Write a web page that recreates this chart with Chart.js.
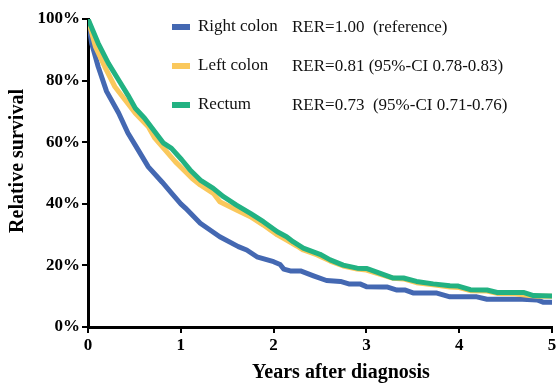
<!DOCTYPE html>
<html>
<head>
<meta charset="utf-8">
<script src="https://cdn.jsdelivr.net/npm/chart.js@4/dist/chart.umd.min.js"></script>
<style>
  html, body { margin: 0; padding: 0; background: #fff; }
  #wrap { width: 556px; height: 383px; position: relative; }
</style>
</head>
<body>
<div id="wrap"><canvas id="c" width="556" height="383"></canvas></div>
<script>
const seriesNames = ["Right colon", "Left colon", "Rectum"];
const rerLabels = ["RER=1.00  (reference)", "RER=0.81 (95%-CI 0.78-0.83)", "RER=0.73  (95%-CI 0.71-0.76)"];
const xTickLabels = ["0", "1", "2", "3", "4", "5"];
const yTickLabels = ["0%", "20%", "40%", "60%", "80%", "100%"];
const xTitle = "Years after diagnosis";
const yTitle = "Relative survival";

const rightYears  = [0, 0.04, 0.11, 0.20, 0.33, 0.43, 0.54, 0.65, 0.80, 0.90, 1.00, 1.05, 1.21, 1.42, 1.62, 1.71, 1.82, 2.00, 2.07, 2.11, 2.18, 2.29, 2.43, 2.57, 2.72, 2.81, 2.93, 3.00, 3.18, 3.22, 3.33, 3.42, 3.51, 3.76, 3.90, 4.19, 4.30, 4.68, 4.84, 4.91, 5.00];
const rightValues = [100, 92, 84.5, 76.5, 69.5, 63, 57.5, 52, 47, 43.5, 40, 38.6, 33.7, 29.3, 26.1, 25, 22.8, 21.2, 20.3, 18.8, 18.2, 18.2, 16.6, 15.1, 14.8, 14.0, 14.0, 13.1, 13.0, 13.0, 12.0, 12.0, 11.0, 11.0, 9.8, 9.8, 9.0, 9.0, 8.8, 8.0, 8.0];

const leftYears  = [0, 0.08, 0.18, 0.29, 0.40, 0.51, 0.65, 0.72, 0.83, 0.94, 1.05, 1.12, 1.21, 1.35, 1.42, 1.60, 1.75, 1.89, 2.04, 2.14, 2.25, 2.32, 2.47, 2.61, 2.75, 2.90, 3.00, 3.15, 3.29, 3.40, 3.54, 3.72, 3.90, 4.00, 4.12, 4.30, 4.41, 4.60, 4.75, 4.85, 5.00];
const leftValues = [100, 91, 84.5, 78, 73.7, 69.4, 65, 61.3, 57.5, 53.7, 50.4, 48.3, 46.1, 43.4, 40.7, 38, 35.8, 33.1, 29.9, 28.2, 26.3, 25, 23.4, 21.4, 19.8, 18.8, 18.5, 17.1, 15.8, 15.6, 14.4, 13.7, 13.0, 12.8, 11.8, 11.7, 10.9, 10.8, 10.2, 10.0, 10.0];

const rectumYears  = [0, 0.11, 0.22, 0.33, 0.43, 0.51, 0.61, 0.72, 0.81, 0.90, 1.01, 1.10, 1.21, 1.35, 1.46, 1.60, 1.75, 1.89, 2.04, 2.14, 2.21, 2.32, 2.50, 2.61, 2.75, 2.90, 3.00, 3.15, 3.29, 3.40, 3.54, 3.72, 3.90, 3.99, 4.12, 4.30, 4.41, 4.70, 4.80, 5.00];
const rectumValues = [100, 92.1, 85.6, 80.2, 75.3, 71.0, 67.8, 63.4, 59.8, 58.0, 54.3, 51.0, 47.7, 45.0, 42.3, 39.6, 36.9, 34.2, 30.9, 29.3, 27.7, 25.6, 23.6, 21.8, 20.1, 19.1, 19.0, 17.4, 15.9, 15.9, 14.8, 14.0, 13.4, 13.3, 12.1, 12.0, 11.2, 11.2, 10.2, 10.1];

const colors = ["rgb(68,104,178)", "rgb(250,200,92)", "rgb(34,178,130)"];

function pts(xs, ys) { return xs.map((x, i) => ({ x: x, y: ys[i] })); }

const overlayPlugin = {
  id: 'overlayText',
  afterDraw(chart) {
    const ctx = chart.ctx;
    ctx.save();
    const rows = [27, 66, 105];
    ctx.font = '17px "Liberation Serif", "Times New Roman", serif';
    ctx.textBaseline = 'middle';
    ctx.textAlign = 'left';
    for (let i = 0; i < 3; i++) {
      ctx.fillStyle = colors[i];
      ctx.fillRect(172, rows[i] - 3, 18, 6);
      ctx.fillStyle = '#111';
      ctx.fillText(seriesNames[i], 198, rows[i]);
      ctx.fillText(rerLabels[i], 292, rows[i] + 1);
    }
    ctx.fillStyle = '#000';
    ctx.font = 'bold 20px "Liberation Serif", "Times New Roman", serif';
    ctx.textAlign = 'center';
    ctx.fillText(xTitle, 341, 373);
    ctx.translate(18, 161);
    ctx.rotate(-Math.PI / 2);
    ctx.fillText(yTitle, 0, 0);
    ctx.restore();
  }
};

const chart = new Chart(document.getElementById('c'), {
  type: 'line',
  data: {
    datasets: [
      { label: seriesNames[2], data: pts(rectumYears, rectumValues), borderColor: colors[2], order: 0 },
      { label: seriesNames[1], data: pts(leftYears, leftValues), borderColor: colors[1], order: 1 },
      { label: seriesNames[0], data: pts(rightYears, rightValues), borderColor: colors[0], order: 2 }
    ]
  },
  options: {
    responsive: false,
    animation: false,
    events: [],
    layout: { padding: { left: 0, right: 4, top: 19, bottom: 0 } },
    elements: {
      line: { borderWidth: 5, tension: 0, fill: false, borderJoinStyle: 'round', borderCapStyle: 'butt' },
      point: { radius: 0 }
    },
    plugins: { legend: { display: false }, tooltip: { enabled: false } },
    scales: {
      x: {
        type: 'linear', min: 0, max: 5,
        afterFit(s) { s.height = 56; s.paddingLeft = 0; s.paddingRight = 0; },
        afterBuildTicks(s) { s.ticks = xTickLabels.map(v => ({ value: Number(v) })); },
        ticks: {
          callback: (v) => xTickLabels[v],
          color: '#000', padding: 2, maxRotation: 0,
          font: { family: '"Liberation Serif", serif', size: 17, weight: 'bold' }
        },
        grid: { display: true, drawOnChartArea: false, drawTicks: true, tickLength: 6, color: '#000', lineWidth: 2 },
        border: { display: true, color: '#000', width: 3 }
      },
      y: {
        type: 'linear', min: 0, max: 100,
        afterFit(s) { s.width = 88; s.paddingTop = 0; s.paddingBottom = 0; },
        afterBuildTicks(s) { s.ticks = yTickLabels.map(v => ({ value: parseFloat(v) })); },
        ticks: {
          callback: (v) => yTickLabels[v / 20],
          color: '#000', padding: 2,
          font: { family: '"Liberation Serif", serif', size: 17, weight: 'bold' }
        },
        grid: { display: true, drawOnChartArea: false, drawTicks: true, tickLength: 6, color: '#000', lineWidth: 2 },
        border: { display: true, color: '#000', width: 3 }
      }
    }
  },
  plugins: [overlayPlugin]
});
</script>
</body>
</html>
